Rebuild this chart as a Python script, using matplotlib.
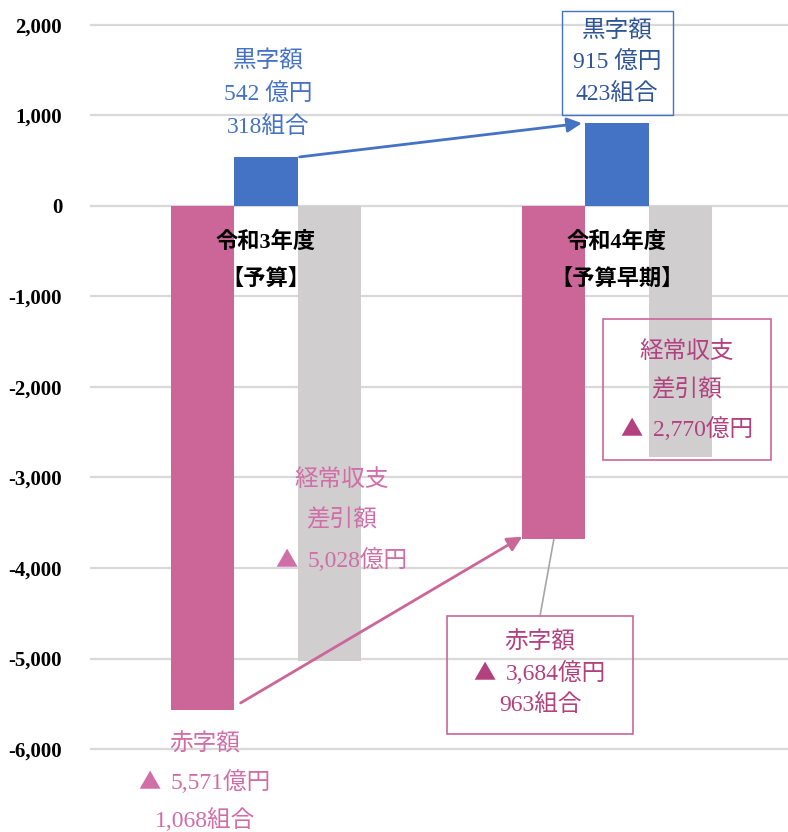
import matplotlib
matplotlib.use('Agg')
import matplotlib.pyplot as plt
from matplotlib.patches import Rectangle

plt.rcParams['font.family'] = ['Liberation Serif', 'Noto Sans CJK JP']

# data (億円)
categories = ['令和3年度\n【予算】', '令和4年度\n【予算早期】']
deficit = [-5571, -3684]      # 赤字額
surplus = [542, 915]          # 黒字額
balance = [-5028, -2770]      # 経常収支差引額
yticks = list(range(-6000, 2001, 1000))

surplus_labels = [['黒字額', '542 億円', '318組合'], ['黒字額', '915 億円', '423組合']]
deficit_labels = [['赤字額', '▲ 5,571億円', '1,068組合'], ['赤字額', '▲ 3,684億円', '963組合']]
balance_labels = [['経常収支', '差引額', '▲ 5,028億円'], ['経常収支', '差引額', '▲ 2,770億円']]

PINK = '#CC6699'
BLUE = '#4472C4'
GRAY = '#D0CECE'
PINK_LT = '#D16DA7'
PINK_DK = '#B3407F'
BLUE_DK = '#2F5597'

W, H = 788, 832
fig = plt.figure(figsize=(W / 100, H / 100), dpi=100)
ax = fig.add_axes([90 / W, 0, (W - 90) / W, 1])
renderer = fig.canvas.get_renderer()


def px(x, y):
    # pixel position (from top-left) -> figure fraction
    return x / W, 1 - y / H


xs = [0, 1]
bw = 0.18
ax.bar([x - bw for x in xs], deficit, bw, color=PINK, zorder=2)
ax.bar(xs, surplus, bw, color=BLUE, zorder=2)
ax.bar([x + bw for x in xs], balance, bw, color=GRAY, zorder=2)

ax.set_xlim(-0.501, 1.487)
ax.set_ylim(-6917, 2276)
ax.set_yticks(yticks)
ax.set_yticklabels([f'{v:,}' for v in yticks], fontsize=15, fontweight='bold')
ax.tick_params(axis='y', length=0, pad=20)
ax.set_xticks([])
ax.yaxis.grid(True, color='#D9D9D9', linewidth=1.6)
ax.set_axisbelow(True)
for s in ax.spines.values():
    s.set_visible(False)


def lines(cx, ys, texts, color, size=17, weight='normal'):
    for y, t in zip(ys, texts):
        if t.startswith('▲'):
            # draw the triangle with the CJK font (full width), the rest in serif
            rest = t[1:].strip()
            tri_w, gap = 22, 10
            tmp = fig.text(0, 0, rest, fontsize=size, fontweight=weight)
            rw = tmp.get_window_extent(renderer).width
            tmp.remove()
            x0 = cx - (tri_w + gap + rw) / 2
            fig.text(*px(x0 + tri_w / 2, y + 1), '▲', ha='center', va='center', color=color,
                     fontsize=size - 1, family='Noto Sans CJK JP', zorder=5)
            fig.text(*px(x0 + tri_w + gap, y), rest, ha='left', va='center', color=color,
                     fontsize=size, fontweight=weight, zorder=5)
        else:
            fig.text(*px(cx, y), t, ha='center', va='center', color=color,
                     fontsize=size, fontweight=weight, zorder=5)


def box(x0, y0, x1, y1, color, lw=1.2):
    fx0, fy1 = px(x0, y0)
    fx1, fy0 = px(x1, y1)
    fig.patches.append(Rectangle((fx0, fy0), fx1 - fx0, fy1 - fy0, transform=fig.transFigure,
                                 fill=False, edgecolor=color, linewidth=lw, zorder=4))


# category labels inside the bar gaps
for cx, lab in zip([266, 617], categories):
    lines(cx, [242, 280], lab.split('\n'), 'black', size=16, weight='bold')

# 令和3年度 annotations
lines(268, [62, 95, 127], surplus_labels[0], BLUE)
lines(205, [744, 782, 820], deficit_labels[0], PINK_LT)
lines(342, [480, 520, 560], balance_labels[0], PINK_LT)

# 令和4年度 annotations (boxed)
box(562, 11, 673, 115, BLUE, lw=1.0)
lines(617, [32, 63, 94], surplus_labels[1], BLUE_DK)
box(603, 319, 771, 460, PINK)
lines(687, [352, 390, 429], balance_labels[1], PINK_DK)
box(447, 616, 633, 734, PINK)
lines(540, [642, 673, 705], deficit_labels[1], PINK_DK)

# arrows between years
ax.annotate('', xy=(1 - bw / 2 - 0.01, surplus[1]), xytext=(bw / 2 + 0.006, surplus[0]),
            arrowprops=dict(arrowstyle='-|>', color=BLUE, lw=2, mutation_scale=22,
                            shrinkA=0, shrinkB=0), zorder=3)
ax.annotate('', xy=(1 - bw - bw / 2, deficit[1] + 30), xytext=(-bw + bw / 2 + 0.018, deficit[0] + 80),
            arrowprops=dict(arrowstyle='-|>', color=PINK, lw=2, mutation_scale=22,
                            shrinkA=0, shrinkB=0), zorder=3)
# leader line to the 赤字額 box
ax.annotate('', xy=(1 - bw, deficit[1]), xytext=px(540, 616), textcoords='figure fraction',
            arrowprops=dict(arrowstyle='-', color='#A6A6A6', lw=1.2, shrinkA=0, shrinkB=0))

fig.savefig('out.png', dpi=100)
